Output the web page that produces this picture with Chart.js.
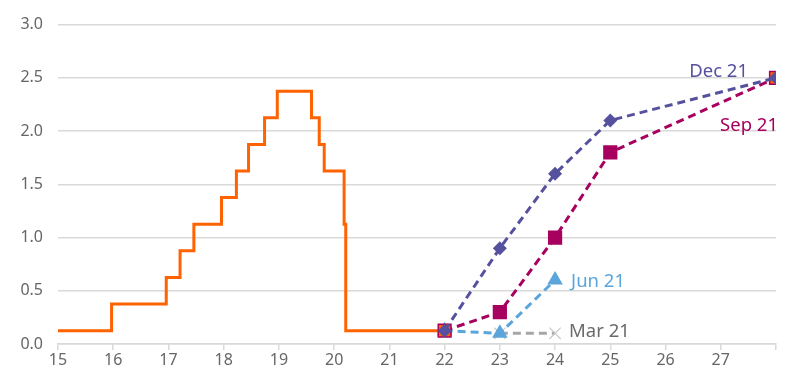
<!DOCTYPE html>
<html>
<head>
<meta charset="utf-8">
<script src="https://cdn.jsdelivr.net/npm/chart.js@4"></script>
<style>
  html, body { margin: 0; padding: 0; background: #fff; }
  #wrap { width: 800px; height: 377px; }
</style>
</head>
<body>
<div id="wrap"><canvas id="chartMain"></canvas></div>
<script>
// policy rate history (stepped), x = year
var rateDates  = [15, 15.97, 16.96, 17.21, 17.46, 17.96, 18.23, 18.45, 18.74, 18.97, 19.59, 19.73, 19.82, 20.18, 20.21, 22];
var rateValues = [0.125, 0.375, 0.625, 0.875, 1.125, 1.375, 1.625, 1.875, 2.125, 2.375, 2.125, 1.875, 1.625, 1.125, 0.125, 0.125];

// dot plot projections
var projYears = [22, 23, 24, 25, 28];
var dec21 = [0.125, 0.9, 1.6, 2.1, 2.5];
var sep21 = [0.125, 0.3, 1.0, 1.8, 2.5];
var jun21 = [0.125, 0.1, 0.6];
var mar21 = [null, 0.1, 0.1];

var yTicks = [0, 0.5, 1, 1.5, 2, 2.5, 3];

function pts(xs, ys) {
  var out = [];
  for (var i = 0; i < ys.length; i++) {
    if (ys[i] !== null) out.push({ x: xs[i], y: ys[i] });
  }
  return out;
}

var FONT = '"Noto Sans", "Open Sans", sans-serif';

// text labels next to the lines
var seriesLabels = {
  id: 'seriesLabels',
  afterDatasetsDraw: function (chart) {
    var c = chart.ctx, xs = chart.scales.x, ys = chart.scales.y;
    var items = [
      { text: 'Dec 21', x: 28, y: 2.5, dx: -28, dy: -6, align: 'right', color: '#55519e' },
      { text: 'Sep 21', x: 28, y: 2.5, dx: 2, dy: 48, align: 'right', color: '#a8005f' },
      { text: 'Jun 21', x: 24, y: 0.6, dx: 16, dy: 2, align: 'left', color: '#5aa5dc' },
      { text: 'Mar 21', x: 24, y: 0.1, dx: 14, dy: -2, align: 'left', color: '#6b6b6b' }
    ];
    c.save();
    c.font = '18.5px ' + FONT;
    c.textBaseline = 'middle';
    items.forEach(function (it) {
      c.fillStyle = it.color;
      c.textAlign = it.align;
      c.fillText(it.text, xs.getPixelForValue(it.x) + it.dx, ys.getPixelForValue(it.y) + it.dy);
    });
    c.restore();
  }
};

var ctx = document.getElementById('chartMain');

var chartMain = new Chart(ctx, {
  type: 'line',
  data: {
    datasets: [
      {
        label: 'Dec 21',
        data: pts(projYears, dec21),
        borderColor: '#55519e',
        backgroundColor: '#55519e',
        borderWidth: 3,
        borderDash: [8, 5],
        pointStyle: 'rectRot',
        pointRadius: 7,
        pointBorderWidth: 0,
        order: 1
      },
      {
        label: 'Sep 21',
        data: pts(projYears, sep21),
        borderColor: '#a8005f',
        backgroundColor: ['#ff6200', '#a8005f', '#a8005f', '#a8005f', '#ff6200'],
        pointBorderColor: '#a8005f',
        borderWidth: 3,
        borderDash: [8, 5],
        pointStyle: 'rect',
        pointRadius: 9,
        pointBorderWidth: 1.5,
        order: 2
      },
      {
        label: 'Jun 21',
        data: pts(projYears, jun21),
        borderColor: '#5aa5dc',
        backgroundColor: '#5aa5dc',
        borderWidth: 3,
        borderDash: [8, 5],
        pointStyle: 'triangle',
        pointRadius: 9,
        pointBorderWidth: 0,
        order: 3
      },
      {
        label: 'Mar 21',
        data: pts(projYears, mar21),
        borderColor: '#a6a6a6',
        backgroundColor: '#c8c8c8',
        pointBorderColor: '#c8c8c8',
        borderWidth: 3,
        borderDash: [8, 5],
        pointStyle: 'crossRot',
        pointRadius: 8,
        pointBorderWidth: 1.2,
        order: 4
      },
      {
        label: 'Fed funds',
        data: pts(rateDates, rateValues),
        borderColor: '#ff6200',
        borderWidth: 3,
        stepped: 'before',
        pointRadius: 0,
        order: 5
      }
    ]
  },
  options: {
    responsive: true,
    maintainAspectRatio: false,
    animation: false,
    layout: { padding: { top: 19, right: 24, left: 0, bottom: 0 } },
    plugins: {
      legend: { display: false },
      tooltip: { enabled: false }
    },
    scales: {
      x: {
        type: 'linear',
        min: 15,
        max: 28,
        afterFit: function (s) { s.height = 33; },
        afterBuildTicks: function (s) {
          var t = [];
          for (var v = 15; v <= 28; v++) t.push({ value: v });
          s.ticks = t;
        },
        ticks: {
          color: '#666666',
          font: { family: FONT, size: 16 },
          padding: 1,
          maxRotation: 0,
          autoSkip: false,
          callback: function (v) { return v === 28 ? '' : String(v); }
        },
        grid: { drawOnChartArea: false, drawTicks: true, tickLength: 6, color: '#d9d9d9', lineWidth: 1.5 },
        border: { display: true, color: '#d9d9d9', width: 1.5 }
      },
      y: {
        min: 0,
        max: 3,
        afterFit: function (s) { s.width = 58; },
        afterBuildTicks: function (s) {
          s.ticks = yTicks.map(function (v) { return { value: v }; });
        },
        ticks: {
          color: '#666666',
          font: { family: FONT, size: 16 },
          padding: 15,
          callback: function (v) { return v.toFixed(1); }
        },
        grid: { color: '#d9d9d9', lineWidth: 1.5, drawTicks: false },
        border: { display: false }
      }
    }
  },
  plugins: [seriesLabels]
});
</script>
</body>
</html>
